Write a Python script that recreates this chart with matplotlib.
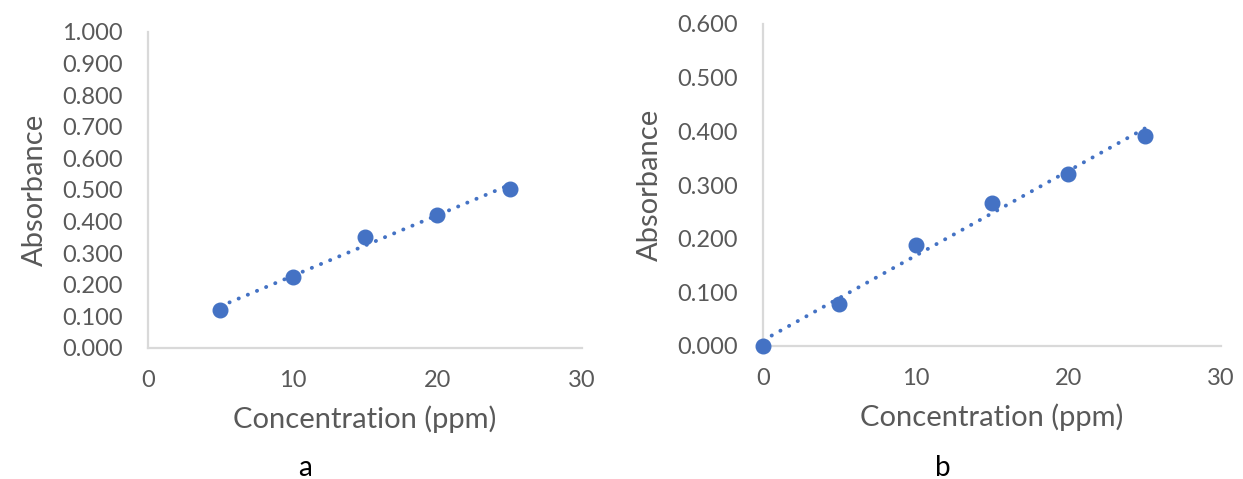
import matplotlib
matplotlib.use("Agg")
import matplotlib.pyplot as plt
import numpy as np
from matplotlib.ticker import FormatStrFormatter

# data
conc_a = [5, 10, 15, 20, 25]
abs_a = [0.121, 0.225, 0.351, 0.421, 0.503]

conc_b = [0, 5, 10, 15, 20, 25]
abs_b = [0.000, 0.079, 0.189, 0.266, 0.321, 0.392]

x_ticks = [0, 10, 20, 30]
y_ticks_a = np.arange(0, 1.0001, 0.1)
y_ticks_b = np.arange(0, 0.6001, 0.1)

blue = "#4472C4"
grey_txt = "#595959"
grey_ax = "#D9D9D9"

plt.rcParams['font.family'] = ['Lato', 'DejaVu Sans']

W, H = 1243, 479
fig = plt.figure(figsize=(W / 100, H / 100), dpi=100)


def px_axes(left, right, top, bottom):
    return fig.add_axes([left / W, 1 - bottom / H, (right - left) / W, (bottom - top) / H])


def style(ax, x, y, yticks, ymax):
    ax.plot(x, y, "o", color=blue, markersize=10.5, zorder=3, clip_on=False)
    k, b = np.polyfit(x, y, 1)
    xs = np.array([min(x), max(x)])
    ax.plot(xs, k * xs + b, color=blue, linewidth=2.8,
            linestyle=(0, (0.05, 2.5)), dash_capstyle="round", zorder=2, clip_on=False)
    ax.set_xlim(0, 30)
    ax.set_ylim(0, ymax)
    ax.set_xticks(x_ticks)
    ax.set_yticks(yticks)
    ax.yaxis.set_major_formatter(FormatStrFormatter("%.3f"))
    for s in ["top", "right"]:
        ax.spines[s].set_visible(False)
    for s in ["left", "bottom"]:
        ax.spines[s].set_color(grey_ax)
        ax.spines[s].set_linewidth(1.6)
    ax.tick_params(axis="both", length=0, labelsize=17, colors=grey_txt)
    ax.tick_params(axis="y", pad=18)
    ax.tick_params(axis="x", pad=16)
    ax.set_xlabel("Concentration (ppm)", fontsize=21, color=grey_txt, labelpad=10)
    ax.set_ylabel("Absorbance", fontsize=21, color=grey_txt, labelpad=10)


ax1 = px_axes(148, 582, 32, 348)
style(ax1, conc_a, abs_a, y_ticks_a, 1.0)

ax2 = px_axes(763, 1221, 24, 346)
style(ax2, conc_b, abs_b, y_ticks_b, 0.6)

fig.text(305 / W, 1 - 468 / H, "a", fontsize=20, ha="center", va="center", color="black")
fig.text(943 / W, 1 - 468 / H, "b", fontsize=20, ha="center", va="center", color="black")

fig.savefig("out.png", dpi=100)
